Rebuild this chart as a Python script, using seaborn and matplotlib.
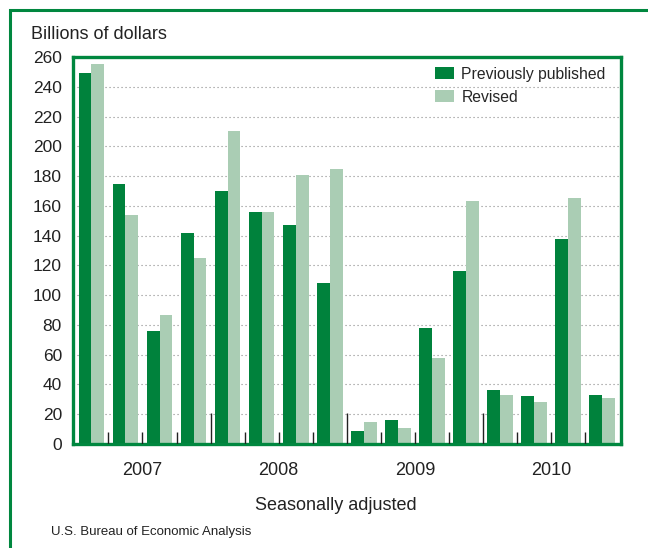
import pandas as pd
import matplotlib
matplotlib.use("Agg")
import matplotlib.pyplot as plt
from matplotlib.patches import Rectangle
import seaborn as sns

years = ["2007", "2008", "2009", "2010"]
quarters = ["Q1", "Q2", "Q3", "Q4"]
previously_published = [249, 175, 76, 142, 170, 156, 147, 108, 9, 16, 78, 116, 36, 32, 138, 33]
revised = [255, 154, 87, 125, 210, 156, 181, 185, 15, 11, 58, 163, 33, 28, 165, 31]
series_names = ["Previously published", "Revised"]
y_ticks = list(range(0, 261, 20))

DARK = "#00823C"
LIGHT = "#AACDB4"
FRAME = "#00873F"


def build_frame():
    labels = [f"{y} {q}" for y in years for q in quarters]
    rows = []
    for lab, p, r in zip(labels, previously_published, revised):
        rows.append({"quarter": lab, "series": series_names[0], "value": p})
        rows.append({"quarter": lab, "series": series_names[1], "value": r})
    return pd.DataFrame(rows), labels


data, labels = build_frame()

sns.set_theme(style="white")
plt.rcParams["font.family"] = ["Liberation Sans", "DejaVu Sans"]

fig = plt.figure(figsize=(6.48, 5.48), dpi=100)
ax = fig.add_axes([73 / 648, 1 - 444 / 548, (621 - 73) / 648, (444 - 57) / 548])

sns.barplot(data=data, x="quarter", y="value", hue="series", order=labels,
            hue_order=series_names, palette=[DARK, LIGHT], width=0.75,
            saturation=1, linewidth=0, ax=ax)

ax.set_ylim(0, 260)
ax.set_xlim(-0.54, len(labels) - 0.45)
ax.set_yticks(y_ticks)
ax.set_yticklabels([str(v) for v in y_ticks], fontsize=12.5, color="#222222")
ax.tick_params(axis="y", length=0, pad=8)

# gridlines, dotted
for v in y_ticks[1:-1]:
    ax.axhline(v, color="#8a8a8a", lw=0.8, ls=(0, (1, 2.6)), zorder=0)
ax.set_axisbelow(True)

# boundary ticks between quarters, taller between years
for i in range(len(labels) - 1):
    h = 21 if (i + 1) % 4 == 0 else 8
    ax.vlines(i + 0.5, 0, h, color="#222222", lw=1.0, zorder=3)

centers = [i * 4 + 1.5 for i in range(len(years))]
ax.set_xticks(centers)
ax.set_xticklabels(years, fontsize=13, color="#222222")
ax.tick_params(axis="x", length=0, pad=13)
ax.set_xlabel("")
ax.set_ylabel("")

for s in ax.spines.values():
    s.set_color(FRAME)
    s.set_linewidth(2.4)

ax.legend(handles=ax.get_legend_handles_labels()[0], labels=series_names,
          loc="upper left", bbox_to_anchor=(0.66, 0.975), frameon=False,
          fontsize=11.3, handlelength=1.2, handleheight=0.85, handletextpad=0.5,
          labelspacing=0.5, borderpad=0, borderaxespad=0)

fig.text(31 / 648, 1 - 39 / 548, "Billions of dollars", fontsize=13,
         color="#222222", va="baseline", ha="left")
fig.text(336 / 648, 1 - 510 / 548, "Seasonally adjusted", fontsize=13,
         color="#222222", va="baseline", ha="center")
fig.text(51 / 648, 1 - 535 / 548, "U.S. Bureau of Economic Analysis", fontsize=9.5,
         color="#222222", va="baseline", ha="left")

# outer green box, runs off the right and bottom edges
top = 1 - 10 / 548
fig.add_artist(Rectangle((10 / 648, -0.2), 1.2, top + 0.2,
                         transform=fig.transFigure, fill=False,
                         edgecolor=FRAME, lw=2.2))

fig.savefig("out.png", dpi=100)
